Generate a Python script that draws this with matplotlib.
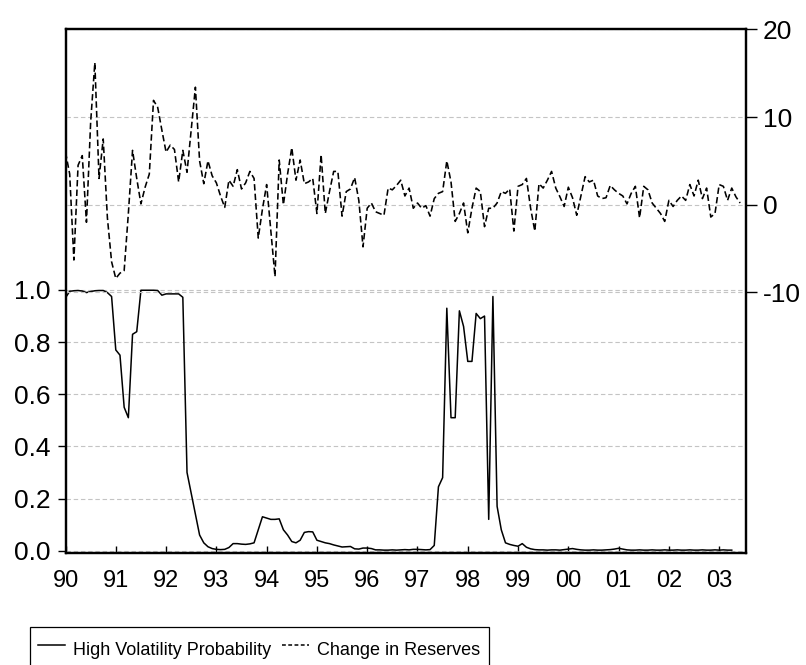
import numpy as np
import matplotlib
matplotlib.use("Agg")
import matplotlib.pyplot as plt
from matplotlib import font_manager
from matplotlib.lines import Line2D


# ---- data (monthly, 1990M01 onwards) ----
year_labels = ["90", "91", "92", "93", "94", "95", "96",
               "97", "98", "99", "00", "01", "02", "03"]

# smoothed probability of the high volatility regime (left axis)
high_vol_prob = [
    0.97, 0.995, 0.997, 0.998, 0.996, 0.99, 0.994, 0.997, 0.998, 0.998, 0.99, 0.975,
    0.77, 0.75, 0.55, 0.51, 0.83, 0.84, 0.999, 0.999, 0.999, 0.999, 0.998, 0.98,
    0.985, 0.985, 0.985, 0.985, 0.972, 0.30, 0.22, 0.14, 0.06, 0.03, 0.015, 0.008,
    0.005, 0.004, 0.005, 0.012, 0.027, 0.027, 0.025, 0.024, 0.026, 0.03, 0.08, 0.13,
    0.125, 0.12, 0.12, 0.122, 0.08, 0.06, 0.035, 0.03, 0.04, 0.07, 0.073, 0.072,
    0.04, 0.035, 0.03, 0.027, 0.022, 0.018, 0.014, 0.015, 0.016, 0.007, 0.006, 0.01,
    0.01, 0.008, 0.003, 0.003, 0.002, 0.002, 0.003, 0.002, 0.003, 0.004, 0.003, 0.005,
    0.005, 0.004, 0.003, 0.004, 0.02, 0.245, 0.28, 0.93, 0.51, 0.51, 0.92, 0.86,
    0.726, 0.726, 0.91, 0.89, 0.90, 0.12, 0.975, 0.17, 0.08, 0.03, 0.024, 0.02,
    0.017, 0.027, 0.013, 0.007, 0.004, 0.003, 0.003, 0.002, 0.003, 0.003, 0.002, 0.004,
    0.006, 0.008, 0.005, 0.003, 0.002, 0.002, 0.003, 0.002, 0.002, 0.003, 0.004, 0.006,
    0.009, 0.006, 0.003, 0.002, 0.002, 0.003, 0.002, 0.002, 0.003, 0.002, 0.002, 0.003,
    0.002, 0.002, 0.003, 0.002, 0.002, 0.003, 0.002, 0.002, 0.003, 0.002, 0.002, 0.003,
    0.002, 0.003, 0.002, 0.002,
]

# change in reserves (right axis)
reserves_change = [
    6.0, 3.5, -6.3, 4.5, 5.6, -2.0, 9.4, 16.2, 3.0, 7.5, -1.5, -6.5,
    -8.4, -7.8, -7.5, -1.0, 6.2, 3.0, 0.1, 2.0, 3.5, 11.9, 11.1, 8.5,
    6.0, 6.8, 6.3, 2.6, 6.2, 3.7, 8.5, 13.4, 5.0, 2.4, 5.0, 3.3,
    2.5, 1.0, -0.3, 2.8, 2.1, 4.0, 1.8, 2.5, 3.8, 3.0, -3.8, -0.5,
    2.3, -3.0, -8.2, 5.1, 0.0, 3.5, 6.5, 2.8, 5.1, 2.4, 2.6, 3.0,
    -1.0, 5.7, -1.0, 1.5, 3.8, 3.8, -1.3, 1.5, 1.8, 3.1, 0.5, -4.8,
    -0.4, 0.2, -0.8, -1.0, -1.2, 1.9, 1.7, 2.2, 2.8, 1.0, 1.9, -0.4,
    0.2, -0.4, -0.1, -1.3, 0.7, 1.3, 1.5, 5.0, 2.6, -1.9, -1.0, 0.2,
    -3.2, -0.4, 1.9, 1.5, -2.5, -0.4, -0.4, 0.2, 1.5, 1.3, 1.8, -3.0,
    2.1, 2.3, 3.0, -0.4, -3.0, 2.4, 1.9, 2.8, 3.8, 1.9, 0.9, -0.2,
    2.0, 0.8, -1.2, 1.0, 3.2, 2.6, 2.8, 1.0, 0.7, 0.8, 2.2, 1.7,
    1.3, 1.0, 0.1, 1.3, 2.1, -1.5, 2.1, 1.7, 0.2, -0.4, -1.0, -1.9,
    0.5, -0.2, 0.5, 1.0, 0.5, 2.3, 1.0, 2.8, 0.7, 1.9, -1.4, -1.0,
    2.3, 2.1, 0.5, 1.9, 0.9, 0.2,
]

series_labels = ["High Volatility Probability", "Change in Reserves"]


# ---- fonts ----
installed = {f.name for f in font_manager.fontManager.ttflist}
if "Liberation Sans Narrow" in installed:
    narrow, xlab_size, leg_size = "Liberation Sans Narrow", 19, 15
else:
    narrow, xlab_size, leg_size = "Liberation Sans", 17, 13
plt.rcParams["font.family"] = ["Liberation Sans", "DejaVu Sans"]
plt.rcParams["axes.unicode_minus"] = False


# ---- figure ----
W, H = 806, 665
fig = plt.figure(figsize=(W / 100, H / 100), dpi=100)
ax1 = fig.add_axes([65.5 / W, 1 - 553 / H, (746 - 65.5) / W, (553 - 29.3) / H])
ax2 = ax1.twinx()

grid_kw = dict(color="#c4c4c4", linewidth=0.8, linestyle=(0, (4, 2.5)))

ax1.plot(np.arange(len(high_vol_prob)), high_vol_prob, color="black", lw=1.1)
ax2.plot(np.arange(len(reserves_change)), reserves_change, color="black",
         lw=1.15, dashes=(4, 2))

# left axis: probability
ax1.set_ylim(-0.009, 2.0)
ax1.set_yticks([0.0, 0.2, 0.4, 0.6, 0.8, 1.0])
ax1.set_yticklabels(["%.1f" % v for v in [0.0, 0.2, 0.4, 0.6, 0.8, 1.0]])
ax1.yaxis.grid(True, **grid_kw)
ax1.tick_params(axis="y", direction="out", length=6, width=1, pad=5, labelsize=19)

# right axis: reserves
ax2.set_ylim(-39.7, 20.0)
ax2.set_yticks([-10, 0, 10, 20])
ax2.yaxis.grid(True, **grid_kw)
ax2.tick_params(axis="y", direction="out", length=8, width=1, pad=4, labelsize=19)

# x axis: years
ax1.set_xlim(0, 162.4)
ax1.set_xticks(np.arange(len(year_labels)) * 12)
ax1.set_xticklabels(year_labels)
ax1.tick_params(axis="x", direction="in", length=5, width=1, pad=12,
                labelsize=xlab_size, labelfontfamily=narrow)

for ax in (ax1, ax2):
    for sp in ax.spines.values():
        sp.set_linewidth(1.6)
        sp.set_color("black")

# legend below the plot (box runs off the bottom edge, as in the original)
handles = [Line2D([], [], color="black", lw=1.1),
           Line2D([], [], color="black", lw=1.1, dashes=(2.5, 1.6))]
leg = fig.legend(handles, series_labels, loc="upper left",
                 bbox_to_anchor=(30 / W, 1 - 627 / H), ncol=2,
                 frameon=True, fancybox=False, framealpha=1, edgecolor="black",
                 borderaxespad=0, borderpad=0.45, handlelength=1.5,
                 handleheight=2.0, handletextpad=0.45, columnspacing=0.6,
                 prop={"family": narrow, "size": leg_size})
leg.get_frame().set_linewidth(0.9)

fig.savefig("out.png", dpi=100)
